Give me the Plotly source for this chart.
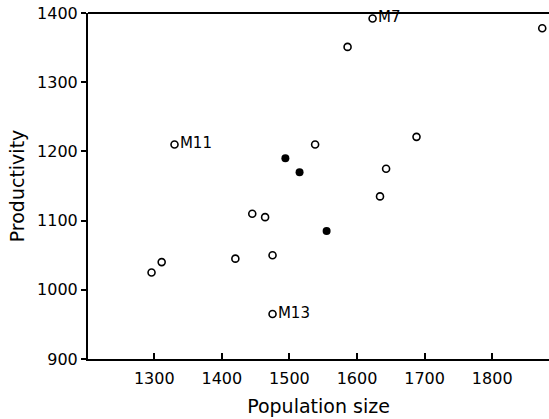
import plotly.graph_objects as go

# open-circle populations
open_x = [1296, 1311, 1420, 1445, 1464, 1475, 1475, 1330, 1538, 1586, 1623, 1688, 1643, 1634, 1874]
open_y = [1025, 1040, 1045, 1110, 1105, 1050, 965, 1210, 1210, 1351, 1392, 1221, 1175, 1135, 1378]
open_labels = ["", "", "", "", "", "", "M13", "M11", "", "", "M7", "", "", "", ""]

# filled-circle populations
filled_x = [1494, 1515, 1555]
filled_y = [1190, 1170, 1085]

x_ticks = [1300, 1400, 1500, 1600, 1700, 1800]
y_ticks = [900, 1000, 1100, 1200, 1300, 1400]

FONT = "DejaVu Sans"

fig = go.Figure()
fig.add_trace(go.Scatter(
    x=open_x, y=open_y, mode="markers+text",
    text=open_labels, textposition="middle right",
    textfont=dict(family=FONT, size=15, color="black"),
    marker=dict(symbol="circle-open", size=7, color="black", line=dict(width=1.6)),
    showlegend=False, cliponaxis=False,
))
fig.add_trace(go.Scatter(
    x=filled_x, y=filled_y, mode="markers",
    marker=dict(symbol="circle", size=8, color="black"),
    showlegend=False,
))

fig.add_shape(type="line", xref="paper", yref="paper", x0=0, x1=1, y0=1, y1=1,
              line=dict(color="black", width=2))

fig.update_layout(
    width=549, height=419,
    margin=dict(l=88, r=0, t=13, b=60),
    paper_bgcolor="white", plot_bgcolor="white",
    font=dict(family=FONT, size=16, color="black"),
    xaxis=dict(
        range=[1202, 1884], tickvals=x_ticks, ticktext=[str(v) for v in x_ticks],
        showgrid=False, zeroline=False, showline=True, linecolor="black", linewidth=2,
        ticks="inside", ticklen=6, tickwidth=1.5, tickcolor="black",
        title=dict(text="Population size", font=dict(size=19), standoff=12),
        tickfont=dict(size=16), ticklabelstandoff=4,
    ),
    yaxis=dict(
        range=[900, 1400], tickvals=y_ticks, ticktext=[str(v) for v in y_ticks],
        showgrid=False, zeroline=False, showline=True, linecolor="black", linewidth=2,
        ticks="outside", ticklen=5, tickwidth=1.5, tickcolor="black",
        title=dict(text="Productivity", font=dict(size=19), standoff=7),
        tickfont=dict(size=16), ticklabeloverflow="allow",
    ),
)

fig.write_html("out.html", config={"displayModeBar": False},
               post_script="document.body.style.margin='0';")
